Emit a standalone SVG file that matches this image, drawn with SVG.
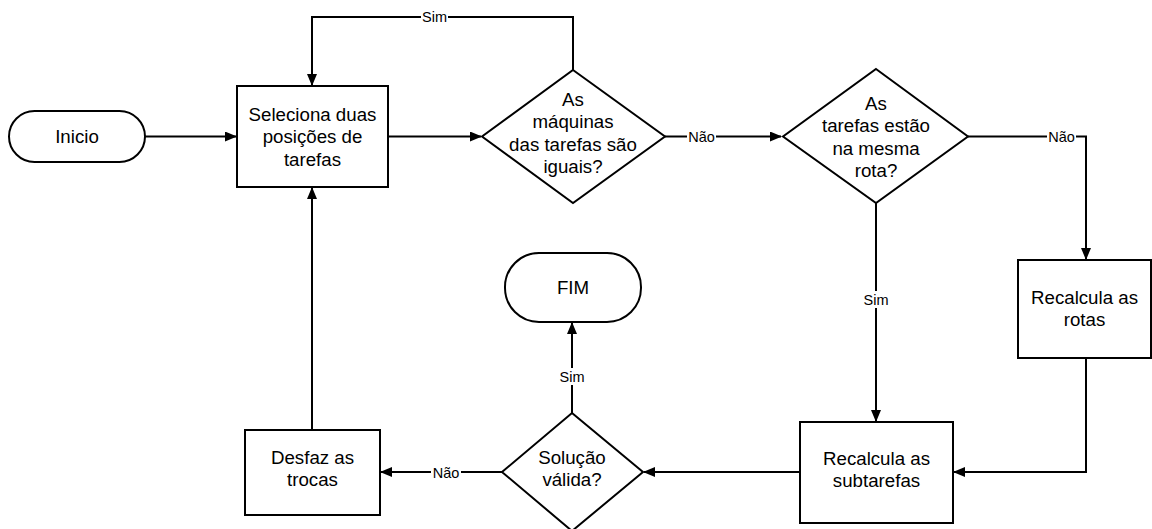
<svg xmlns="http://www.w3.org/2000/svg" width="1152" height="529" viewBox="0 0 1152 529">
  <style>
    .shape { fill: #ffffff; stroke: #000000; stroke-width: 2; }
    .txt { font-family: "Liberation Sans", Arial, sans-serif; font-size: 18.7px; fill: #000000; text-anchor: middle; }
    .edge { fill: none; stroke: #000000; stroke-width: 2; }
    .lbl { font-family: "Liberation Sans", Arial, sans-serif; font-size: 14.5px; fill: #000000; text-anchor: middle; }
    .lblbg { fill: #ffffff; stroke: none; }
  </style>
  <defs>
    <marker id="arrow" markerUnits="userSpaceOnUse" markerWidth="12" markerHeight="10" refX="11" refY="5" orient="auto">
      <path d="M0,0 L12,5 L0,10 z" fill="#000000"/>
    </marker>
  </defs>
  <rect width="1152" height="529" fill="#ffffff"/>

  <g id="connectors">
    <!-- Inicio -> Seleciona -->
    <path class="edge" d="M145,136.5 L236,136.5" marker-end="url(#arrow)"/>
    <!-- Seleciona -> decision 1 -->
    <path class="edge" d="M388,136.5 L481,136.5" marker-end="url(#arrow)"/>
    <!-- decision 1 Sim -> Seleciona -->
    <path class="edge" d="M573,70 L573,17 L312,17 L312,85" marker-end="url(#arrow)"/>
    <rect class="lblbg" x="421" y="9" width="27" height="16"/>
    <text class="lbl" x="434.5" y="22">Sim</text>
    <!-- decision 1 Não -> decision 2 -->
    <path class="edge" d="M665,136.5 L781,136.5" marker-end="url(#arrow)"/>
    <rect class="lblbg" x="687" y="128" width="29" height="16"/>
    <text class="lbl" x="701.5" y="141.5">Não</text>
    <!-- decision 2 Não -> Recalcula rotas -->
    <path class="edge" d="M968,136.5 L1086,136.5 L1086,259" marker-end="url(#arrow)"/>
    <rect class="lblbg" x="1047" y="128" width="29" height="16"/>
    <text class="lbl" x="1061.5" y="141.5">Não</text>
    <!-- decision 2 Sim -> Recalcula subtarefas -->
    <path class="edge" d="M876,203 L876,421" marker-end="url(#arrow)"/>
    <rect class="lblbg" x="862" y="291" width="28" height="17"/>
    <text class="lbl" x="876" y="304.5">Sim</text>
    <!-- Recalcula rotas -> Recalcula subtarefas -->
    <path class="edge" d="M1086,358 L1086,472 L954,472" marker-end="url(#arrow)"/>
    <!-- Recalcula subtarefas -> decision 3 -->
    <path class="edge" d="M800,472 L644,472" marker-end="url(#arrow)"/>
    <!-- decision 3 Sim -> FIM -->
    <path class="edge" d="M572,413 L572,323" marker-end="url(#arrow)"/>
    <rect class="lblbg" x="558" y="368" width="28" height="17"/>
    <text class="lbl" x="572" y="381.5">Sim</text>
    <!-- decision 3 Não -> Desfaz -->
    <path class="edge" d="M502,472 L381,472" marker-end="url(#arrow)"/>
    <rect class="lblbg" x="431" y="464" width="30" height="16"/>
    <text class="lbl" x="446" y="477.5">Não</text>
    <!-- Desfaz -> Seleciona -->
    <path class="edge" d="M312,430 L312,188" marker-end="url(#arrow)"/>
  </g>

  <g id="inicio">
    <rect class="shape" x="9" y="111" width="136" height="51" rx="25.5" ry="25.5"/>
    <text class="txt" x="77" y="143">Inicio</text>
  </g>

  <g id="seleciona">
    <rect class="shape" x="237" y="86" width="151" height="101"/>
    <text class="txt" x="312.5" y="120.5">Seleciona duas</text>
    <text class="txt" x="312.5" y="143">posições de</text>
    <text class="txt" x="312.5" y="165.5">tarefas</text>
  </g>

  <g id="decisao-maquinas">
    <polygon class="shape" points="573,70 665,136.5 573,203 482,136.5"/>
    <text class="txt" x="573" y="105.5">As</text>
    <text class="txt" x="573" y="128">máquinas</text>
    <text class="txt" x="573" y="150.5">das tarefas são</text>
    <text class="txt" x="573" y="173">iguais?</text>
  </g>

  <g id="decisao-rota">
    <polygon class="shape" points="876,69 968,136.5 876,203 783,136.5"/>
    <text class="txt" x="876" y="109.5">As</text>
    <text class="txt" x="876" y="132">tarefas estão</text>
    <text class="txt" x="876" y="154.5">na mesma</text>
    <text class="txt" x="876" y="177">rota?</text>
  </g>

  <g id="recalcula-rotas">
    <rect class="shape" x="1018" y="260" width="133" height="98"/>
    <text class="txt" x="1084.5" y="303.5">Recalcula as</text>
    <text class="txt" x="1084.5" y="326">rotas</text>
  </g>

  <g id="recalcula-subtarefas">
    <rect class="shape" x="800" y="422" width="153" height="101"/>
    <text class="txt" x="876.5" y="464.5">Recalcula as</text>
    <text class="txt" x="876.5" y="487">subtarefas</text>
  </g>

  <g id="decisao-solucao">
    <polygon class="shape" points="572,413 643,472 572,531 502,472"/>
    <text class="txt" x="572" y="463.5">Solução</text>
    <text class="txt" x="572" y="486">válida?</text>
  </g>

  <g id="fim">
    <rect class="shape" x="505" y="253" width="136" height="69" rx="34" ry="34"/>
    <text class="txt" x="573" y="293.5">FIM</text>
  </g>

  <g id="desfaz">
    <rect class="shape" x="245" y="430" width="135" height="85"/>
    <text class="txt" x="312.5" y="463.5">Desfaz as</text>
    <text class="txt" x="312.5" y="486">trocas</text>
  </g>
</svg>
